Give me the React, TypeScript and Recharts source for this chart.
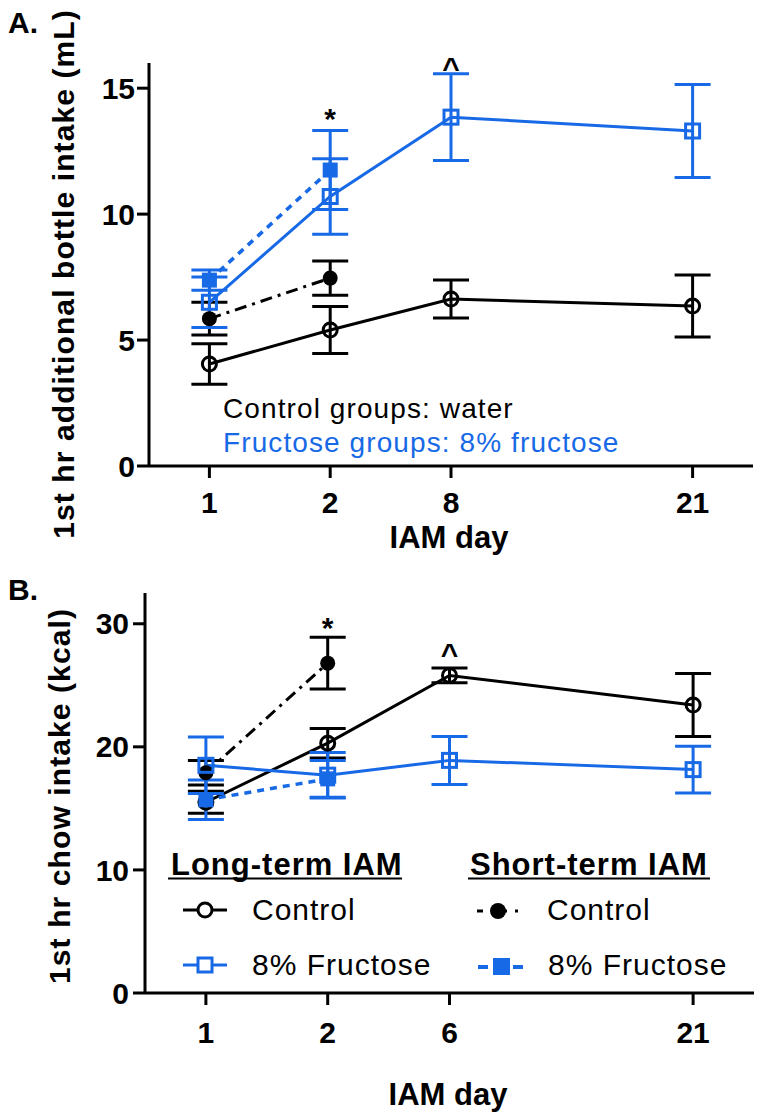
import React from 'react';
import { LineChart, Line, XAxis, YAxis, ErrorBar, ReferenceDot } from 'recharts';

const BLUE = '#1769e6';
const BLACK = '#000000';
const FONT = '"Liberation Sans", Arial, Helvetica, sans-serif';

// A. 1st hr additional bottle intake (mL)
const daysA = ['1', '2', '8', '21'];
const slotsA = [0, 1, 2, 4];
const ltControlA = [4.05, 5.4, 6.63, 6.35];
const ltControlErrA = [0.8, 0.93, 0.75, 1.23];
const ltFructoseA = [6.5, 10.7, 13.85, 13.3];
const ltFructoseErrA = [1.0, 1.5, 1.72, 1.85];
const stControlA = [5.85, 7.46];
const stControlErrA = [0.65, 0.68];
const stFructoseA = [7.38, 11.75];
const stFructoseErrA = [0.4, 1.57];
const marksA = [
  { slot: 1, value: 13.8, text: '*' },
  { slot: 2, value: 15.83, text: '^' },
];

// B. 1st hr chow intake (kcal)
const daysB = ['1', '2', '6', '21'];
const slotsB = [0, 1, 2, 4];
const ltControlB = [15.5, 20.3, 25.8, 23.4];
const ltControlErrB = [0.9, 1.2, 0.6, 2.55];
const ltFructoseB = [18.5, 17.7, 18.9, 18.15];
const ltFructoseErrB = [2.3, 1.85, 1.95, 1.9];
const stControlB = [17.9, 26.8];
const stControlErrB = [1.0, 2.1];
const stFructoseB = [15.7, 17.4];
const stFructoseErrB = [1.6, 1.5];
const marksB = [
  { slot: 1, value: 29.7, text: '*' },
  { slot: 2, value: 27.6, text: '^' },
];

const buildRows = (
  slots: number[],
  ltC: number[], ltCE: number[],
  ltF: number[], ltFE: number[],
  stC: number[], stCE: number[],
  stF: number[], stFE: number[],
) =>
  slots.map((slot, i) => ({
    slot,
    ltControl: ltC[i], ltControlErr: ltCE[i],
    ltFructose: ltF[i], ltFructoseErr: ltFE[i],
    stControl: stC[i], stControlErr: stCE[i],
    stFructose: stF[i], stFructoseErr: stFE[i],
  }));

const rowsA = buildRows(slotsA, ltControlA, ltControlErrA, ltFructoseA, ltFructoseErrA, stControlA, stControlErrA, stFructoseA, stFructoseErrA);
const rowsB = buildRows(slotsB, ltControlB, ltControlErrB, ltFructoseB, ltFructoseErrB, stControlB, stControlErrB, stFructoseB, stFructoseErrB);

// marker renderer for Line dots
const marker = (kind: 'circle' | 'square', color: string, filled: boolean) => (p: any) => {
  const key = `${kind}-${color}-${filled}-${p.index}`;
  if (p.cx == null || p.cy == null || p.value == null) return <g key={key} />;
  if (kind === 'circle') {
    return filled
      ? <circle key={key} cx={p.cx} cy={p.cy} r={7.5} fill={color} />
      : <circle key={key} cx={p.cx} cy={p.cy} r={7} fill="none" stroke={color} strokeWidth={3} />;
  }
  return filled
    ? <rect key={key} x={p.cx - 7.5} y={p.cy - 7.5} width={15} height={15} fill={color} />
    : <rect key={key} x={p.cx - 7} y={p.cy - 7} width={14} height={14} fill="none" stroke={color} strokeWidth={3} />;
};

const tickStyle = { fontSize: 30, fontWeight: 700, fill: BLACK, fontFamily: FONT };

interface PanelProps {
  rows: any[];
  days: string[];
  slots: number[];
  yMax: number;
  yTicks: number[];
  marks: { slot: number; value: number; text: string }[];
  height: number;
  margin: { top: number; right: number; bottom: number; left: number };
  xTickMargin: number;
  yTickMargin: number;
}

const Panel: React.FC<PanelProps> = ({ rows, days, slots, yMax, yTicks, marks, height, margin, xTickMargin, yTickMargin }) => (
  <LineChart width={765} height={height} data={rows} margin={margin}>
    <XAxis
      dataKey="slot"
      type="number"
      domain={[-0.5, 4.5]}
      ticks={slots}
      tickFormatter={(v) => days[slots.indexOf(v)]}
      axisLine={{ stroke: BLACK, strokeWidth: 3 }}
      tickLine={{ stroke: BLACK, strokeWidth: 3 }}
      tickSize={12}
      tickMargin={xTickMargin}
      tick={tickStyle}
      height={40}
    />
    <YAxis
      type="number"
      domain={[0, yMax]}
      ticks={yTicks}
      allowDataOverflow
      axisLine={{ stroke: BLACK, strokeWidth: 3 }}
      tickLine={{ stroke: BLACK, strokeWidth: 3 }}
      tickSize={12}
      tickMargin={yTickMargin}
      tick={tickStyle}
      width={60}
    />
    <Line dataKey="ltControl" stroke={BLACK} strokeWidth={3} dot={marker('circle', BLACK, false)} isAnimationActive={false}>
      <ErrorBar dataKey="ltControlErr" direction="y" width={18} stroke={BLACK} strokeWidth={3} isAnimationActive={false} />
    </Line>
    <Line dataKey="stControl" stroke={BLACK} strokeWidth={3} strokeDasharray="12 6 3 6" dot={marker('circle', BLACK, true)} isAnimationActive={false}>
      <ErrorBar dataKey="stControlErr" direction="y" width={18} stroke={BLACK} strokeWidth={3} isAnimationActive={false} />
    </Line>
    <Line dataKey="ltFructose" stroke={BLUE} strokeWidth={3} dot={marker('square', BLUE, false)} isAnimationActive={false}>
      <ErrorBar dataKey="ltFructoseErr" direction="y" width={18} stroke={BLUE} strokeWidth={3} isAnimationActive={false} />
    </Line>
    <Line dataKey="stFructose" stroke={BLUE} strokeWidth={3.5} strokeDasharray="7 6" dot={marker('square', BLUE, true)} isAnimationActive={false}>
      <ErrorBar dataKey="stFructoseErr" direction="y" width={18} stroke={BLUE} strokeWidth={3} isAnimationActive={false} />
    </Line>
    {marks.map((m) => (
      <ReferenceDot
        key={m.text}
        x={m.slot}
        y={m.value}
        r={0}
        fill="none"
        stroke="none"
        label={{ value: m.text, position: 'center', fontSize: 30, fontWeight: 700, fill: BLACK, fontFamily: FONT }}
      />
    ))}
  </LineChart>
);

const overlay: React.CSSProperties = { position: 'absolute', left: 0, top: 0, pointerEvents: 'none', overflow: 'visible' };

export default function App() {
  return (
    <div style={{ position: 'absolute', left: 0, top: 0, width: 765, height: 1118, background: '#fff', fontFamily: FONT }}>
      {/* panel A */}
      <div style={{ position: 'absolute', left: 0, top: 0, width: 765, height: 560 }}>
        <Panel
          rows={rowsA}
          days={daysA}
          slots={slotsA}
          yMax={16}
          yTicks={[0, 5, 10, 15]}
          marks={marksA}
          height={560}
          margin={{ top: 63, right: 12, bottom: 54, left: 89 }}
          xTickMargin={14}
          yTickMargin={2}
        />
        <svg width={765} height={560} style={overlay} fontFamily={FONT}>
          <text x={8} y={33} fontSize={30} fontWeight={700}>A.</text>
          <text transform="translate(74,274) rotate(-90)" textAnchor="middle" fontSize={30} fontWeight={700} letterSpacing={1.1}>
            1st hr additional bottle intake (mL)
          </text>
          <text x={449} y={548} textAnchor="middle" fontSize={31} fontWeight={700}>IAM day</text>
          <text x={223} y={418} fontSize={28} letterSpacing={1.1} fill={BLACK}>Control groups: water</text>
          <text x={223} y={452} fontSize={28} letterSpacing={1.1} fill={BLUE}>Fructose groups: 8% fructose</text>
        </svg>
      </div>

      {/* panel B */}
      <div style={{ position: 'absolute', left: 0, top: 560, width: 765, height: 558 }}>
        <Panel
          rows={rowsB}
          days={daysB}
          slots={slotsB}
          yMax={32.5}
          yTicks={[0, 10, 20, 30]}
          marks={marksB}
          height={558}
          margin={{ top: 33, right: 11, bottom: 85, left: 85 }}
          xTickMargin={17}
          yTickMargin={4}
        />
        <svg width={765} height={558} style={overlay} fontFamily={FONT}>
          <text x={8} y={40} fontSize={30} fontWeight={700}>B.</text>
          <text transform="translate(70,236) rotate(-90)" textAnchor="middle" fontSize={30} fontWeight={700} letterSpacing={1.1}>
            1st hr chow intake (kcal)
          </text>
          <text x={448} y={545} textAnchor="middle" fontSize={31} fontWeight={700}>IAM day</text>

          {/* legend: long-term */}
          <text x={171} y={315} fontSize={31} fontWeight={700} letterSpacing={1}>Long-term IAM</text>
          <line x1={168} x2={402} y1={318.5} y2={318.5} stroke={BLACK} strokeWidth={2} />
          <line x1={183} x2={227} y1={350} y2={350} stroke={BLACK} strokeWidth={3} />
          <circle cx={205} cy={350} r={7} fill="#fff" stroke={BLACK} strokeWidth={3} />
          <text x={252} y={360} fontSize={30} letterSpacing={1}>Control</text>
          <line x1={183} x2={227} y1={405} y2={405} stroke={BLUE} strokeWidth={3} />
          <rect x={198} y={398} width={14} height={14} fill="#fff" stroke={BLUE} strokeWidth={3} />
          <text x={252} y={415} fontSize={30} letterSpacing={1}>8% Fructose</text>

          {/* legend: short-term */}
          <text x={470} y={315} fontSize={31} fontWeight={700} letterSpacing={1}>Short-term IAM</text>
          <line x1={468} x2={710} y1={318.5} y2={318.5} stroke={BLACK} strokeWidth={2} />
          <line x1={477} x2={518} y1={351} y2={351} stroke={BLACK} strokeWidth={3} strokeDasharray="6 8 16 8 6" />
          <circle cx={498} cy={351} r={8} fill={BLACK} />
          <text x={547} y={360} fontSize={30} letterSpacing={1}>Control</text>
          <line x1={478} x2={523} y1={407} y2={407} stroke={BLUE} strokeWidth={4} strokeDasharray="10 5 15 5 10" />
          <rect x={493} y={398} width={17} height={17} fill={BLUE} />
          <text x={548} y={415} fontSize={30} letterSpacing={1}>8% Fructose</text>
        </svg>
      </div>
    </div>
  );
}
